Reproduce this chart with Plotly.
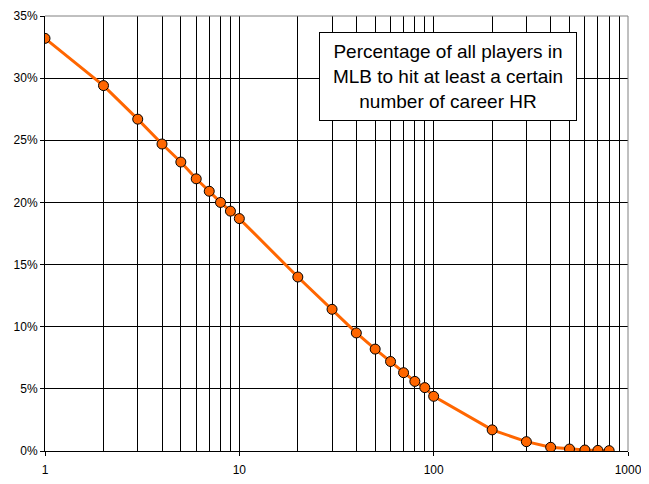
import plotly.graph_objects as go

career_hr = [1, 2, 3, 4, 5, 6, 7, 8, 9, 10, 20, 30, 40, 50, 60, 70, 80, 90, 100,
             200, 300, 400, 500, 600, 700, 800]
pct_players = [33.2, 29.4, 26.7, 24.7, 23.25, 21.9, 20.9, 20.0, 19.3, 18.7,
               14.0, 11.4, 9.5, 8.2, 7.2, 6.3, 5.6, 5.1, 4.4,
               1.7, 0.75, 0.3, 0.16, 0.08, 0.05, 0.03]
x_major_ticks = [1, 10, 100, 1000]
x_minor_ticks = [m * d for d in (1, 10, 100) for m in range(2, 10)]
y_ticks = [0, 5, 10, 15, 20, 25, 30, 35]
title_text = "Percentage of all players in<br>MLB to hit at least a certain<br>number of career HR"

fig = go.Figure()
fig.add_trace(go.Scatter(
    x=career_hr, y=pct_players, mode="lines+markers",
    line=dict(color="#FF6600", width=3),
    marker=dict(color="#FF6600", size=10, line=dict(color="black", width=1)),
    showlegend=False,
))

fig.update_layout(
    width=641, height=476,
    margin=dict(l=37, r=21, t=8, b=33, autoexpand=False),
    paper_bgcolor="white", plot_bgcolor="white",
    font=dict(family="Arial, Liberation Sans, sans-serif", size=12, color="black"),
    xaxis=dict(
        type="log", range=[0, 3], automargin=False,
        tickvals=x_major_ticks, ticktext=[str(v) for v in x_major_ticks],
        showgrid=True, gridcolor="black", gridwidth=1,
        minor=dict(tickvals=x_minor_ticks, showgrid=True, gridcolor="black", gridwidth=1),
        showline=True, linecolor="black", linewidth=1,
        ticks="outside", ticklen=4, tickcolor="black",
        ticklabelstandoff=4,
        zeroline=False,
    ),
    yaxis=dict(
        range=[0, 35], tickvals=y_ticks, automargin=False,
        ticktext=[f"{v}%" for v in y_ticks],
        showgrid=True, gridcolor="black", gridwidth=1,
        showline=True, linecolor="black", linewidth=1,
        ticks="outside", ticklen=4, tickcolor="black",
        zeroline=False,
    ),
    shapes=[
        dict(type="line", xref="paper", yref="paper", x0=0, x1=1, y0=1, y1=1,
             line=dict(color="#808080", width=1)),
        dict(type="line", xref="paper", yref="paper", x0=1, x1=1, y0=0, y1=1,
             line=dict(color="#808080", width=1)),
    ],
    annotations=[dict(
        xref="paper", yref="paper", x=0.691, y=0.861,
        xanchor="center", yanchor="middle",
        text=title_text, showarrow=False, align="center",
        width=256, height=87,
        font=dict(family="Arial, Liberation Sans, sans-serif", size=19, color="black"),
        bgcolor="white", bordercolor="black", borderwidth=1,
        borderpad=0,
    )],
)

fig.write_html("out.html")
